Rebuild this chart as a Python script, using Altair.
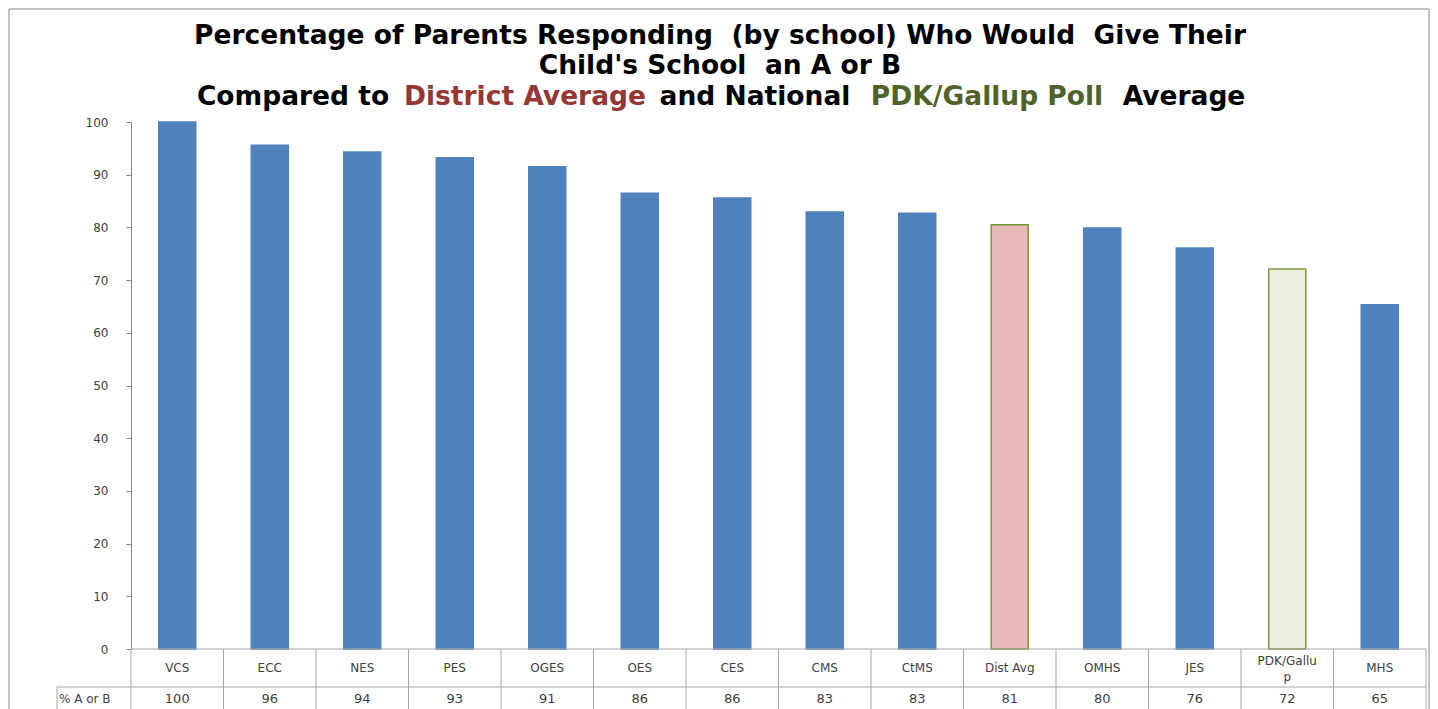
import altair as alt
import pandas as pd

# ---- data ----
schools = ["VCS", "ECC", "NES", "PES", "OGES", "OES", "CES", "CMS", "CtMS",
           "Dist Avg", "OMHS", "JES", "PDK/Gallup", "MHS"]
bar_values = [100, 95.6, 94.3, 93.2, 91.5, 86.5, 85.6, 82.9, 82.7,
              80.5, 79.9, 76.1, 72.1, 65.3]
table_values = ["100", "96", "94", "93", "91", "86", "86", "83", "83",
                "81", "80", "76", "72", "65"]
cell_labels = ["VCS", "ECC", "NES", "PES", "OGES", "OES", "CES", "CMS", "CtMS",
               "Dist Avg", "OMHS", "JES", "PDK/Gallu\np", "MHS"]
kinds = ["school", "school", "school", "school", "school", "school", "school",
         "school", "school", "district", "school", "school", "national", "school"]
y_ticks = [0, 10, 20, 30, 40, 50, 60, 70, 80, 90, 100]
row_label = "% A or B"

title_line1 = "Percentage of Parents Responding\u00a0 (by school) Who Would\u00a0 Give Their"
title_line2 = "Child's School\u00a0 an A or B"
title_line3 = [("Compared to", "#000000"), ("District Average", "#953735"),
               ("and National", "#000000"), ("PDK/Gallup Poll", "#4F6228"),
               ("Average", "#000000")]

# ---- layout ----
W, H = 1295, 527
STEP = W / len(schools)
GRID = "#A6A6A6"
TXT = "#404040"
FONT = "DejaVu Sans"
TFONT = "DejaVu Sans"
TSIZE = 26.5

df = pd.DataFrame({"school": schools, "value": bar_values, "pct": table_values,
                   "label": cell_labels, "kind": kinds})

x = alt.X("school:N", sort=schools, axis=None,
          scale=alt.Scale(paddingInner=0.6, paddingOuter=0.3))

bars = alt.Chart(df).mark_bar(strokeWidth=1.5).encode(
    x=x,
    y=alt.Y("value:Q", scale=alt.Scale(domain=[0, 100], nice=False),
            axis=alt.Axis(values=y_ticks, title=None, grid=False,
                          domainColor="#868686", tickColor="#868686", tickSize=5,
                          labelPadding=18, labelFont=FONT, labelFontSize=12,
                          labelColor=TXT)),
    fill=alt.Fill("kind:N", legend=None,
                  scale=alt.Scale(domain=["school", "district", "national"],
                                  range=["#4F81BD", "#E6B9B8", "#EBF1DE"])),
    stroke=alt.Stroke("kind:N", legend=None,
                      scale=alt.Scale(domain=["school", "district", "national"],
                                      range=["#4F81BD", "#77933C", "#77933C"])),
)

one = alt.Data(values=[{}])

cat_text = alt.Chart(df).transform_filter(
    "indexof(datum.label, '\\n') < 0"
).mark_text(font=FONT, fontSize=12, color=TXT, baseline="middle").encode(
    x=x, y=alt.value(H + 19), text="label:N")
cat_text2 = alt.Chart(df).transform_filter(
    "indexof(datum.label, '\\n') >= 0"
).mark_text(font=FONT, fontSize=12, color=TXT, lineBreak="\n",
            baseline="middle", lineHeight=16).encode(
    x=x, y=alt.value(H + 12), text="label:N")
val_text = alt.Chart(df).mark_text(font=FONT, fontSize=13, color=TXT,
                                   baseline="middle").encode(
    x=x, y=alt.value(H + 50), text="pct:N")
row_text = alt.Chart(one).mark_text(font=FONT, fontSize=12, color=TXT, align="left",
                                    baseline="middle").encode(
    x=alt.value(-72), y=alt.value(H + 50), text=alt.value(row_label))

hline1 = alt.Chart(one).mark_rule(color=GRID).encode(
    x=alt.value(0), x2=alt.value(W), y=alt.value(H))
hline2 = alt.Chart(one).mark_rule(color=GRID).encode(
    x=alt.value(-74), x2=alt.value(W), y=alt.value(H + 38))
vlines = alt.Chart(df).mark_rule(color=GRID, xOffset=-STEP / 2).encode(
    x=x, y=alt.value(H), y2=alt.value(H + 90))
vright = alt.Chart(one).mark_rule(color=GRID).encode(
    x=alt.value(W), y=alt.value(H), y2=alt.value(H + 90))
vleft = alt.Chart(one).mark_rule(color=GRID).encode(
    x=alt.value(-74), y=alt.value(H + 38), y2=alt.value(H + 90))

border = alt.Chart(one).mark_rect(fill="transparent", stroke="#868686", strokeWidth=1).encode(
    x=alt.value(-122), x2=alt.value(1298), y=alt.value(-113), y2=alt.value(H + 120))

CX = 589
t1 = alt.Chart(one).mark_text(font=TFONT, fontWeight="bold", fontSize=TSIZE, color="#000000",
                              align="center", baseline="middle").encode(
    x=alt.value(CX), y=alt.value(-86), text=alt.value(title_line1))
t2 = alt.Chart(one).mark_text(font=TFONT, fontWeight="bold", fontSize=TSIZE, color="#000000",
                              align="center", baseline="middle").encode(
    x=alt.value(CX), y=alt.value(-56), text=alt.value(title_line2))
seg_cx = [162, 394, 624, 856, 1053]
t3 = [alt.Chart(one).mark_text(font=TFONT, fontWeight="bold", fontSize=TSIZE, color=c,
                               align="center", baseline="middle").encode(
          x=alt.value(sx), y=alt.value(-25), text=alt.value(s))
      for (s, c), sx in zip(title_line3, seg_cx)]

chart = alt.layer(border, bars, hline1, hline2, vlines, vright, vleft,
                  cat_text, cat_text2, val_text, row_text, t1, t2, *t3).properties(
    width=W, height=H,
    autosize=alt.AutoSizeParams(type="none"),
    padding={"left": 123, "top": 114, "right": 4, "bottom": 60},
).configure_view(stroke=None)

chart.save("out.html", embed_options={"renderer": "svg", "actions": False})
